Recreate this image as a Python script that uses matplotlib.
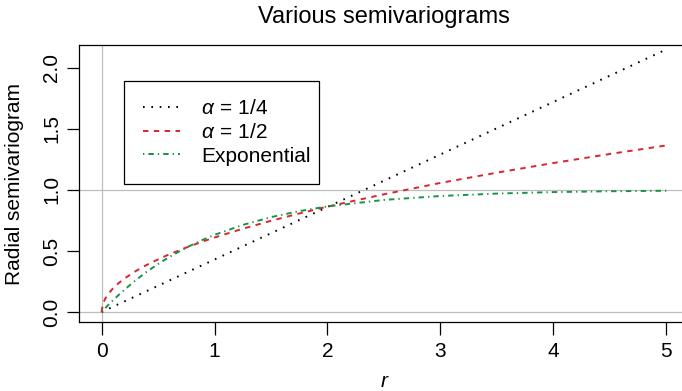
import matplotlib
matplotlib.use("Agg")
import matplotlib.pyplot as plt
import numpy as np

# values
r = [0, 0.01, 0.03, 0.06, 0.1, 0.15, 0.2, 0.3, 0.4, 0.5, 0.6, 0.75, 0.9, 1.0,
     1.25, 1.5, 1.75, 2.0, 2.5, 3.0, 3.5, 4.0, 4.5, 5.0]
gamma_quarter = [0, 0.004, 0.013, 0.026, 0.043, 0.065, 0.086, 0.129, 0.172, 0.215,
                 0.258, 0.323, 0.387, 0.43, 0.538, 0.645, 0.753, 0.86, 1.075, 1.29,
                 1.505, 1.72, 1.935, 2.15]
gamma_half = [0, 0.061, 0.106, 0.149, 0.193, 0.236, 0.273, 0.334, 0.386, 0.431,
              0.473, 0.528, 0.579, 0.61, 0.682, 0.747, 0.807, 0.863, 0.964, 1.057,
              1.141, 1.22, 1.294, 1.364]
gamma_exp = [0, 0.01, 0.03, 0.058, 0.095, 0.139, 0.181, 0.259, 0.33, 0.393,
             0.451, 0.528, 0.593, 0.632, 0.713, 0.777, 0.826, 0.865, 0.918, 0.95,
             0.97, 0.982, 0.989, 0.993]
labels = [r"$\alpha\,=\,1/4$", r"$\alpha\,=\,1/2$", "Exponential"]
x_ticks = [0, 1, 2, 3, 4, 5]
y_ticks = [0.0, 0.5, 1.0, 1.5, 2.0]

plt.rcParams["font.family"] = ["Liberation Sans", "DejaVu Sans"]
plt.rcParams["mathtext.fontset"] = "custom"
plt.rcParams["mathtext.rm"] = "Liberation Sans"
plt.rcParams["mathtext.it"] = "Liberation Sans:italic"
plt.rcParams["lines.scale_dashes"] = False

W, H = 682, 391
fig = plt.figure(figsize=(W / 100, H / 100), dpi=100)
# plot box in pixels: left 79, right ~689 (cut off), top 45, bottom 322
ax = fig.add_axes([79 / W, (H - 322.3) / H, (688.8 - 79) / W, (322.3 - 45.3) / H])

grey = "#BEBEBE"
ax.axhline(0, color=grey, lw=0.9, zorder=1)
ax.axhline(1, color=grey, lw=0.9, zorder=1)
ax.axvline(0, color=grey, lw=0.9, zorder=1)

ax.plot(r, gamma_quarter, color="black", lw=1.4, dashes=(1.2, 4.8), label=labels[0], zorder=3)
ax.plot(r, gamma_half, color="#D8262C", lw=1.4, dashes=(3.9, 3.9), label=labels[1], zorder=3)
ax.plot(r, gamma_exp, color="#179446", lw=1.4, dashes=(0.97, 2.9, 3.9, 2.9), label=labels[2], zorder=3)

ax.set_xlim(-0.2, 5.2)
ax.set_ylim(-0.084, 2.184)
ax.set_xticks(x_ticks)
ax.set_xticklabels([str(t) for t in x_ticks])
ax.set_yticks(y_ticks)
ax.set_yticklabels(["%.1f" % t for t in y_ticks], rotation=90, va="center")

for s in ax.spines.values():
    s.set_linewidth(0.9)
ax.tick_params(direction="out", length=9, width=0.9, labelsize=15, pad=5)
ax.tick_params(axis="y", pad=4)

ax.set_xlabel("r", fontsize=15, style="italic", labelpad=8)
ax.set_ylabel("Radial semivariogram", fontsize=15, labelpad=13)
ax.set_title("Various semivariograms", fontsize=17, pad=16)

leg = ax.legend(loc="upper left", bbox_to_anchor=(124.3 / W, 1 - 80.7 / H, (319 - 124.3) / W, 0),
                bbox_transform=fig.transFigure, mode="expand", fontsize=15,
                frameon=True, fancybox=False, edgecolor="black", framealpha=1,
                borderaxespad=0, borderpad=0.9, handlelength=1.75, handletextpad=1.05,
                labelspacing=0.22)
leg.get_frame().set_linewidth(0.9)

fig.savefig("out.png", dpi=100)
